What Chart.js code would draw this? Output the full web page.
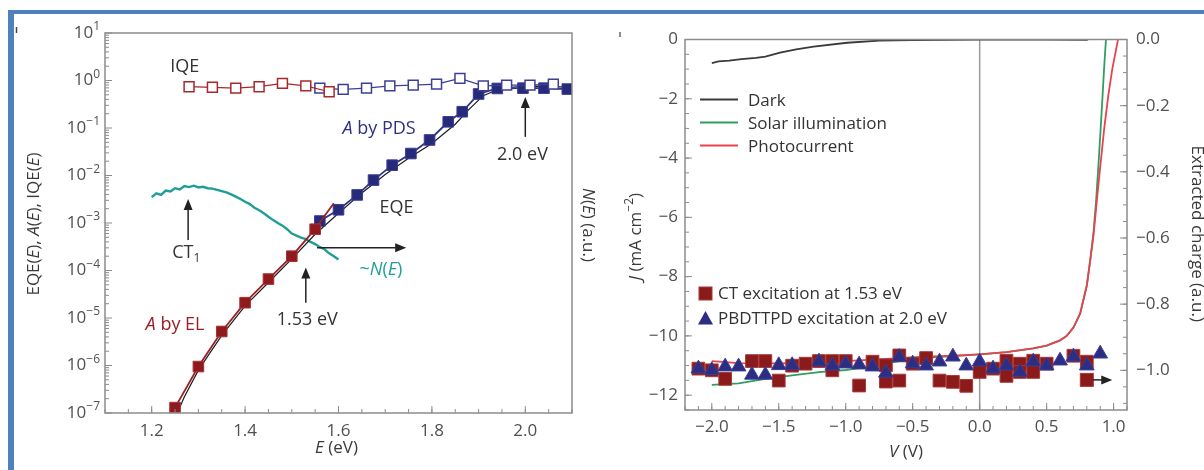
<!DOCTYPE html>
<html>
<head>
<meta charset="utf-8">
<script src="https://cdn.jsdelivr.net/npm/chart.js@4.4.1/dist/chart.umd.min.js"></script>
<style>
  html, body { margin: 0; padding: 0; background: #fff; }
  body { width: 1204px; height: 470px; position: relative; overflow: hidden; }
  .frame { position: absolute; left: 8px; top: 10px; right: 0; bottom: 0;
           border-left: 6px solid #4f81bd; border-top: 4px solid #4f81bd; }
  #left-chart { position: absolute; left: 14px; top: 14px; }
  #right-chart { position: absolute; left: 600px; top: 14px; }
</style>
</head>
<body>
<div class="frame"></div>
<canvas id="left-chart" width="586" height="456"></canvas>
<canvas id="right-chart" width="604" height="456"></canvas>
<script>
// ---- Left panel: EQE / absorption / IQE vs photon energy (eV) ----
const iqeElE = [1.28, 1.33, 1.38, 1.43, 1.48, 1.53, 1.58];
const iqeElVal = [0.74, 0.72, 0.69, 0.74, 0.87, 0.77, 0.58];
const iqePdsE = [1.56, 1.61, 1.66, 1.71, 1.76, 1.81, 1.86, 1.91, 1.96, 2.01, 2.06];
const iqePdsVal = [0.69, 0.65, 0.69, 0.77, 0.80, 0.84, 1.11, 0.77, 0.80, 0.80, 0.84];
const absElE = [1.25, 1.30, 1.35, 1.40, 1.45, 1.50, 1.55, 1.57, 1.59];
const absElVal = [1.3e-7, 9.5e-7, 5.2e-6, 2.1e-5, 6.6e-5, 2.0e-4, 7.4e-4, 1.4e-3, 2.6e-3];
const absPdsE = [1.56, 1.60, 1.64, 1.675, 1.715, 1.755, 1.795, 1.835, 1.865, 1.90, 1.94, 1.995, 2.04, 2.09];
const absPdsVal = [1.1e-3, 1.9e-3, 3.9e-3, 8.0e-3, 1.65e-2, 2.9e-2, 5.6e-2, 0.135, 0.22, 0.52, 0.68, 0.69, 0.69, 0.66];
const eqeE = [1.255, 1.27, 1.30, 1.35, 1.40, 1.45, 1.50, 1.55, 1.60, 1.65, 1.70, 1.75, 1.80, 1.85, 1.88, 1.91, 1.94, 1.97, 2.00, 2.05, 2.10];
const eqeVal = [1.0e-7, 2.2e-7, 8.0e-7, 4.3e-6, 1.8e-5, 5.6e-5, 1.75e-4, 5.8e-4, 1.6e-3, 4.3e-3, 1.05e-2, 2.3e-2, 4.7e-2, 0.12, 0.25, 0.48, 0.64, 0.72, 0.76, 0.75, 0.72];
const ctE = [1.20, 1.21, 1.22, 1.23, 1.24, 1.25, 1.26, 1.27, 1.28, 1.29, 1.30, 1.31, 1.32, 1.33, 1.34, 1.35, 1.36, 1.37, 1.38, 1.39, 1.40,
             1.41, 1.42, 1.43, 1.44, 1.45, 1.46, 1.47, 1.48, 1.49, 1.50, 1.51, 1.52, 1.53, 1.54, 1.55, 1.56, 1.57, 1.58, 1.59, 1.60];
const ctN = [3.5e-3, 4.2e-3, 3.9e-3, 4.8e-3, 4.6e-3, 5.4e-3, 5.1e-3, 6.0e-3, 5.7e-3, 6.1e-3, 5.6e-3, 5.8e-3, 5.4e-3, 5.3e-3, 5.0e-3, 4.7e-3,
             4.4e-3, 4.0e-3, 3.6e-3, 3.2e-3, 2.8e-3, 2.5e-3, 2.1e-3, 1.85e-3, 1.6e-3, 1.35e-3, 1.15e-3, 1.0e-3, 8.8e-4, 7.4e-4, 6.0e-4,
             5.4e-4, 4.9e-4, 4.6e-4, 4.0e-4, 3.6e-4, 3.1e-4, 2.8e-4, 2.3e-4, 2.0e-4, 1.7e-4];
const energyTicks = [1.2, 1.4, 1.6, 1.8, 2.0];
const decadeTicks = [1, 0, -1, -2, -3, -4, -5, -6, -7];

// ---- Right panel: J-V curves and extracted charge vs voltage (V) ----
const darkV = [-2.0, -1.95, -1.87, -1.78, -1.67, -1.6, -1.49, -1.37, -1.24, -0.99, -0.75, -0.5, 0.0, 0.5, 0.8, 0.9, 1.0];
const darkJ = [-0.80, -0.74, -0.71, -0.66, -0.62, -0.58, -0.44, -0.33, -0.24, -0.11, -0.04, -0.02, 0.0, 0.0, -0.01, 0.2, 1.5];
const solarV = [-2.0, -1.8, -1.6, -1.4, -1.2, -1.0, -0.8, -0.6, -0.4, -0.2, 0.0, 0.2, 0.4, 0.5, 0.6, 0.65, 0.7, 0.75, 0.8, 0.83, 0.85, 0.87, 0.89, 0.91, 0.93, 0.95];
const solarJ = [-11.65, -11.6, -11.45, -11.33, -11.22, -11.15, -11.02, -10.85, -10.74, -10.68, -10.62, -10.55, -10.42, -10.33, -10.15, -10.0, -9.72, -9.25, -8.3, -7.3, -6.5, -5.4, -4.0, -2.5, -0.9, 0.5];
const photoV = [-2.0, -1.8, -1.5, -1.2, -1.0, -0.8, -0.6, -0.4, -0.2, 0.0, 0.2, 0.4, 0.5, 0.6, 0.65, 0.7, 0.75, 0.8, 0.85, 0.88, 0.9, 0.93, 0.96, 0.99, 1.02, 1.05];
const photoJ = [-10.85, -10.92, -10.93, -10.9, -10.85, -10.8, -10.75, -10.7, -10.67, -10.62, -10.55, -10.42, -10.33, -10.15, -10.0, -9.72, -9.25, -8.3, -6.6, -5.2, -4.3, -3.0, -1.9, -1.0, -0.3, 0.4];
const ctExcV = [-2.1, -2.0, -1.9, -1.7, -1.6, -1.5, -1.4, -1.3, -1.2, -1.1, -1.1, -1.0, -0.9, -0.8, -0.7, -0.7, -0.6, -0.6,
                -0.5, -0.4, -0.3, -0.2, -0.1, 0.0, 0.1, 0.2, 0.2, 0.3, 0.3, 0.4, 0.4, 0.5, 0.7, 0.8];
const ctExcQ = [-0.995, -1.0, -1.026, -0.972, -0.972, -1.031, -0.986, -0.98, -0.972, -0.972, -1.0, -0.972, -1.046, -0.974, -0.985, -1.034, -0.955, -1.031,
                -0.98, -0.963, -1.031, -1.035, -1.047, -1.005, -0.995, -0.971, -1.017, -0.98, -1.005, -0.971, -1.005, -0.98, -0.956, -0.974];
const polyExcV = [-2.1, -2.0, -1.9, -1.8, -1.7, -1.6, -1.5, -1.4, -1.2, -1.1, -1.0, -0.9, -0.8, -0.7, -0.6, -0.5, -0.4, -0.3, -0.2, -0.1,
                  0.0, 0.1, 0.2, 0.3, 0.4, 0.5, 0.6, 0.7, 0.8, 0.9];
const polyExcQ = [-0.995, -1.0, -0.989, -0.989, -1.014, -1.014, -0.985, -0.985, -0.974, -0.986, -0.98, -0.983, -0.989, -1.008, -0.96, -0.98, -0.986, -0.974, -0.959, -0.986,
                  -0.974, -0.995, -0.986, -1.005, -0.974, -0.986, -0.971, -0.959, -0.986, -0.95];
const voltTicks = [-2.0, -1.5, -1.0, -0.5, 0.0, 0.5, 1.0];
const currentTicks = [0, -2, -4, -6, -8, -10, -12];
const chargeTicks = [0.0, -0.2, -0.4, -0.6, -0.8, -1.0];

const FONT = "'Open Sans', 'DejaVu Sans', sans-serif";
const AXIS_GRAY = '#8c8c8c';
const LABEL_GRAY = '#505050';
const TEXT_DARK = '#333333';
const DARK_RED = '#9a1f23';
const NAVY = '#2d3184';
const TEAL = '#1f9e97';

const pts = (xs, ys) => xs.map((v, i) => ({ x: v, y: ys[i] }));

function steps(from, to, step) {
    const out = [];
    const n = Math.round((to - from) / step);
    for (let i = 0; i <= n; i++) out.push(+(from + i * step).toFixed(4));
    return out;
}

// Number with a real minus sign
function fmt(v, digits) {
    const s = digits === undefined ? String(Math.abs(v)) : Math.abs(v).toFixed(digits);
    return (v < 0 ? '\u2212' : '') + s;
}

// Draw text made of parts: [text, style] with style '', 'i', 'sup' or 'sub'
function drawRich(ctx, parts, x, y, opts = {}) {
    const size = opts.size || 17;
    const fontFor = s => (s === 'i' ? 'italic ' : '') + (s === 'sup' || s === 'sub' ? Math.round(size * 0.68) : size) + 'px ' + FONT;
    ctx.save();
    ctx.translate(x, y);
    if (opts.rotate) ctx.rotate(opts.rotate);
    ctx.fillStyle = opts.color || TEXT_DARK;
    ctx.textBaseline = 'middle';
    ctx.textAlign = 'left';
    let total = 0;
    parts.forEach(([t, s]) => { ctx.font = fontFor(s); total += ctx.measureText(t).width; });
    let cx = opts.align === 'right' ? -total : opts.align === 'left' ? 0 : -total / 2;
    parts.forEach(([t, s]) => {
        ctx.font = fontFor(s);
        const dy = s === 'sup' ? -size * 0.36 : s === 'sub' ? size * 0.3 : 0;
        ctx.fillText(t, cx, dy);
        cx += ctx.measureText(t).width;
    });
    ctx.restore();
}

function arrow(ctx, x1, y1, x2, y2, color) {
    const ang = Math.atan2(y2 - y1, x2 - x1);
    ctx.save();
    ctx.strokeStyle = color || '#222';
    ctx.fillStyle = color || '#222';
    ctx.lineWidth = 1.5;
    ctx.beginPath();
    ctx.moveTo(x1, y1);
    ctx.lineTo(x2 - 6 * Math.cos(ang), y2 - 6 * Math.sin(ang));
    ctx.stroke();
    ctx.translate(x2, y2);
    ctx.rotate(ang);
    ctx.beginPath();
    ctx.moveTo(0, 0);
    ctx.lineTo(-11, -4.5);
    ctx.lineTo(-11, 4.5);
    ctx.closePath();
    ctx.fill();
    ctx.restore();
}

// Inward tick marks
function tickMarks(ctx, scale, values, len, side, a) {
    ctx.beginPath();
    values.forEach(v => {
        const p = scale.getPixelForValue(v);
        if (side === 'bottom') { ctx.moveTo(p, a.bottom); ctx.lineTo(p, a.bottom - len); }
        else if (side === 'left') { ctx.moveTo(a.left, p); ctx.lineTo(a.left + len, p); }
        else { ctx.moveTo(a.right, p); ctx.lineTo(a.right - len, p); }
    });
    ctx.stroke();
}

const baseOptions = {
    responsive: false,
    animation: false,
    events: [],
    elements: { line: { tension: 0 } },
    plugins: { legend: { display: false }, tooltip: { enabled: false } }
};

// ---------- Left chart ----------
const leftDecor = {
    id: 'leftDecor',
    afterDraw(chart) {
        const { ctx, chartArea: a, scales: { x, y } } = chart;
        const at = (xv, yv) => [x.getPixelForValue(xv), y.getPixelForValue(yv)];
        ctx.save();
        ctx.strokeStyle = AXIS_GRAY;
        ctx.lineWidth = 1.5;
        ctx.strokeRect(a.left, a.top, a.right - a.left, a.bottom - a.top);
        ctx.lineWidth = 1;
        tickMarks(ctx, x, energyTicks, 7, 'bottom', a);
        tickMarks(ctx, x, steps(1.1, 2.1, 0.05), 4, 'bottom', a);
        const minor = [];
        decadeTicks.forEach(e => { for (let k = 2; k <= 9; k++) { const v = k * Math.pow(10, e); if (v < 10) minor.push(v); } });
        tickMarks(ctx, y, decadeTicks.map(e => Math.pow(10, e)), 7, 'left', a);
        tickMarks(ctx, y, minor, 4, 'left', a);

        energyTicks.forEach(v => drawRich(ctx, [[v.toFixed(1), '']], x.getPixelForValue(v), a.bottom + 18, { color: LABEL_GRAY }));
        decadeTicks.forEach(e => drawRich(ctx, [['10', ''], [fmt(e), 'sup']], a.left - 5, y.getPixelForValue(Math.pow(10, e)), { align: 'right', color: LABEL_GRAY }));

        // axis titles
        drawRich(ctx, [['EQE(', ''], ['E', 'i'], ['), ', ''], ['A', 'i'], ['(', ''], ['E', 'i'], ['), IQE(', ''], ['E', 'i'], [')', '']],
            20, (a.top + a.bottom) / 2 + 1, { rotate: -Math.PI / 2, color: '#3a3a3a' });
        drawRich(ctx, [['N', 'i'], ['(', ''], ['E', 'i'], [') (a.u.)', '']], 574, (a.top + a.bottom) / 2 + 2, { rotate: Math.PI / 2, color: '#3a3a3a' });
        drawRich(ctx, [['E', 'i'], [' (eV)', '']], (a.left + a.right) / 2 - 2, a.bottom + 35, { color: '#3a3a3a' });

        // annotations
        let p = at(1.271, 1.9); drawRich(ctx, [['IQE', '']], p[0], p[1], { size: 18 });
        p = at(1.687, 0.095); drawRich(ctx, [['A', 'i'], [' by PDS', '']], p[0], p[1], { size: 18, color: NAVY });
        p = at(1.994, 0.027); drawRich(ctx, [['2.0 eV', '']], p[0], p[1], { size: 18 });
        arrow(ctx, ...at(2.0, 0.065), ...at(2.0, 0.45));
        p = at(1.724, 2.07e-3); drawRich(ctx, [['EQE', '']], p[0], p[1], { size: 18 });
        p = at(1.274, 2.3e-4); drawRich(ctx, [['CT', ''], ['1', 'sub']], p[0], p[1], { size: 18 });
        arrow(ctx, ...at(1.278, 4.4e-4), ...at(1.278, 3.2e-3));
        arrow(ctx, ...at(1.554, 3e-4), ...at(1.745, 3e-4));
        p = at(1.691, 1.02e-4); drawRich(ctx, [['~', ''], ['N', 'i'], ['(', ''], ['E', 'i'], [')', '']], p[0], p[1], { size: 18, color: TEAL });
        p = at(1.533, 9.1e-6); drawRich(ctx, [['1.53 eV', '']], p[0], p[1], { size: 18 });
        arrow(ctx, ...at(1.53, 2.1e-5), ...at(1.53, 1.15e-4));
        p = at(1.25, 7.1e-6); drawRich(ctx, [['A', 'i'], [' by EL', '']], p[0], p[1], { size: 18, color: DARK_RED });

        // panel letter remnant
        ctx.strokeStyle = '#444';
        ctx.lineWidth = 1.5;
        ctx.beginPath(); ctx.moveTo(2.5, 13); ctx.lineTo(2.5, 19); ctx.stroke();
        ctx.restore();
    }
};

new Chart(document.getElementById('left-chart'), {
    type: 'line',
    data: {
        datasets: [
            { data: pts(iqeElE, iqeElVal), borderColor: '#a8282c', borderWidth: 1.2, pointStyle: 'rect', pointRadius: 7,
              pointBackgroundColor: '#fff', pointBorderColor: '#a8282c', pointBorderWidth: 1.5 },
            { data: pts(iqePdsE, iqePdsVal), borderColor: '#3b3f95', borderWidth: 1.2, pointStyle: 'rect', pointRadius: 7,
              pointBackgroundColor: '#fff', pointBorderColor: '#3b3f95', pointBorderWidth: 1.5 },
            { data: pts(absElE, absElVal), borderColor: DARK_RED, borderWidth: 1.8, pointStyle: 'rect',
              pointRadius: [7.5, 7.5, 7.5, 7.5, 7.5, 7.5, 7.5, 0, 0], pointBackgroundColor: '#8e1a1e', pointBorderColor: '#a83232', pointBorderWidth: 1 },
            { data: pts(absPdsE, absPdsVal), borderColor: NAVY, borderWidth: 1.8, pointStyle: 'rect', pointRadius: 7.5,
              pointBackgroundColor: '#272a78', pointBorderColor: '#3a3e96', pointBorderWidth: 1 },
            { data: pts(eqeE, eqeVal), borderColor: '#1c1c1c', borderWidth: 1.2, pointRadius: 0 },
            { data: pts(ctE, ctN), borderColor: TEAL, borderWidth: 2.4, pointRadius: 0 }
        ]
    },
    options: {
        ...baseOptions,
        layout: { padding: { left: 91, right: 28, top: 19, bottom: 57 } },
        scales: {
            x: { type: 'linear', display: false, min: 1.1, max: 2.1 },
            y: { type: 'logarithmic', display: false, min: 1e-7, max: 10 }
        }
    },
    plugins: [leftDecor]
});

// ---------- Right chart ----------
const rightDecor = {
    id: 'rightDecor',
    beforeDatasetsDraw(chart) {
        const { ctx, chartArea: a, scales: { x } } = chart;
        const zx = x.getPixelForValue(0);
        ctx.save();
        ctx.strokeStyle = '#9a9a9a';
        ctx.lineWidth = 1.5;
        ctx.beginPath(); ctx.moveTo(zx, a.top); ctx.lineTo(zx, a.bottom); ctx.stroke();
        ctx.restore();
    },
    afterDraw(chart) {
        const { ctx, chartArea: a, scales: { x, y, y2 } } = chart;
        ctx.save();
        ctx.strokeStyle = AXIS_GRAY;
        ctx.lineWidth = 1.5;
        ctx.strokeRect(a.left, a.top, a.right - a.left, a.bottom - a.top);
        ctx.lineWidth = 1;
        tickMarks(ctx, x, voltTicks, 7, 'bottom', a);
        tickMarks(ctx, x, steps(-2.2, 1.1, 0.1), 4, 'bottom', a);
        tickMarks(ctx, y, currentTicks, 7, 'left', a);
        tickMarks(ctx, y, steps(-12.5, 0, 0.5), 4, 'left', a);
        tickMarks(ctx, y2, chargeTicks, 7, 'right', a);
        tickMarks(ctx, y2, steps(-1.1, 0, 0.05), 4, 'right', a);

        voltTicks.forEach(v => drawRich(ctx, [[fmt(v, 1), '']], x.getPixelForValue(v), a.bottom + 17, { color: LABEL_GRAY }));
        currentTicks.forEach(v => drawRich(ctx, [[fmt(v), '']], a.left - 7, y.getPixelForValue(v), { align: 'right', color: LABEL_GRAY }));
        chargeTicks.forEach(v => drawRich(ctx, [[fmt(v, 1), '']], a.right + 9, y2.getPixelForValue(v), { align: 'left', color: LABEL_GRAY }));

        drawRich(ctx, [['J', 'i'], [' (mA cm', ''], ['\u22122', 'sup'], [')', '']], 36, (a.top + a.bottom) / 2 + 12, { rotate: -Math.PI / 2, color: '#3a3a3a' });
        drawRich(ctx, [['V', 'i'], [' (V)', '']], x.getPixelForValue(-0.55), a.bottom + 42, { color: '#3a3a3a' });
        drawRich(ctx, [['Extracted charge (a.u.)', '']], 597, (a.top + a.bottom) / 2 + 9, { rotate: Math.PI / 2, color: '#3a3a3a' });

        // line legend
        const lines = [['Dark', '#3a3a3a'], ['Solar illumination', '#2f9e63'], ['Photocurrent', '#e8424f']];
        lines.forEach(([label, color], i) => {
            const ly = a.top + 60 + i * 23;
            ctx.strokeStyle = color;
            ctx.lineWidth = 1.8;
            ctx.beginPath(); ctx.moveTo(a.left + 15, ly); ctx.lineTo(a.left + 53, ly); ctx.stroke();
            drawRich(ctx, [[label, '']], a.left + 63, ly + 2, { align: 'left', size: 17 });
        });

        // marker legend
        const my1 = a.top + 254, my2 = a.top + 279;
        ctx.fillStyle = '#8b1a1a'; ctx.strokeStyle = '#a83a3a'; ctx.lineWidth = 1;
        ctx.fillRect(a.left + 14, my1 - 6.5, 13, 13); ctx.strokeRect(a.left + 14, my1 - 6.5, 13, 13);
        drawRich(ctx, [['CT excitation at 1.53 eV', '']], a.left + 33, my1 + 1, { align: 'left', size: 17 });
        ctx.fillStyle = '#2b2e83';
        ctx.beginPath(); ctx.moveTo(a.left + 20.5, my2 - 7.5); ctx.lineTo(a.left + 28, my2 + 6); ctx.lineTo(a.left + 13, my2 + 6); ctx.closePath(); ctx.fill();
        drawRich(ctx, [['PBDTTPD excitation at 2.0 eV', '']], a.left + 33, my2 + 1, { align: 'left', size: 17 });

        // square with arrow pointing to the right-hand axis
        const sx = x.getPixelForValue(0.8), sy = y2.getPixelForValue(-1.029);
        ctx.fillStyle = '#8b1a1a'; ctx.strokeStyle = '#a83a3a';
        ctx.fillRect(sx - 6.5, sy - 6.5, 13, 13); ctx.strokeRect(sx - 6.5, sy - 6.5, 13, 13);
        arrow(ctx, sx + 6, sy, x.getPixelForValue(0.99), sy, '#222');

        ctx.strokeStyle = '#666';
        ctx.lineWidth = 1.5;
        ctx.beginPath(); ctx.moveTo(20, 18); ctx.lineTo(20, 23); ctx.stroke();
        ctx.restore();
    }
};

new Chart(document.getElementById('right-chart'), {
    type: 'line',
    data: {
        datasets: [
            { data: pts(polyExcV, polyExcQ), yAxisID: 'y2', showLine: false, pointStyle: 'triangle', pointRadius: 8.5,
              pointBackgroundColor: '#2b2e83', pointBorderColor: '#3a3d96', pointBorderWidth: 1 },
            { data: pts(ctExcV, ctExcQ), yAxisID: 'y2', showLine: false, pointStyle: 'rect', pointRadius: 9,
              pointBackgroundColor: '#8b1a1a', pointBorderColor: '#a83a3a', pointBorderWidth: 1 },
            { data: pts(photoV, photoJ), yAxisID: 'y', borderColor: '#e8424f', borderWidth: 1.8, pointRadius: 0 },
            { data: pts(solarV, solarJ), yAxisID: 'y', borderColor: '#2f9e63', borderWidth: 1.8, pointRadius: 0 },
            { data: pts(darkV, darkJ), yAxisID: 'y', borderColor: '#3a3a3a', borderWidth: 1.8, pointRadius: 0 }
        ]
    },
    options: {
        ...baseOptions,
        layout: { padding: { left: 85, right: 77, top: 25.5, bottom: 60 } },
        scales: {
            x: { type: 'linear', display: false, min: -2.2, max: 1.1 },
            y: { type: 'linear', display: false, min: -12.5, max: 0 },
            y2: { type: 'linear', display: false, min: -1.12, max: 0 }
        }
    },
    plugins: [rightDecor]
});
</script>
</body>
</html>
